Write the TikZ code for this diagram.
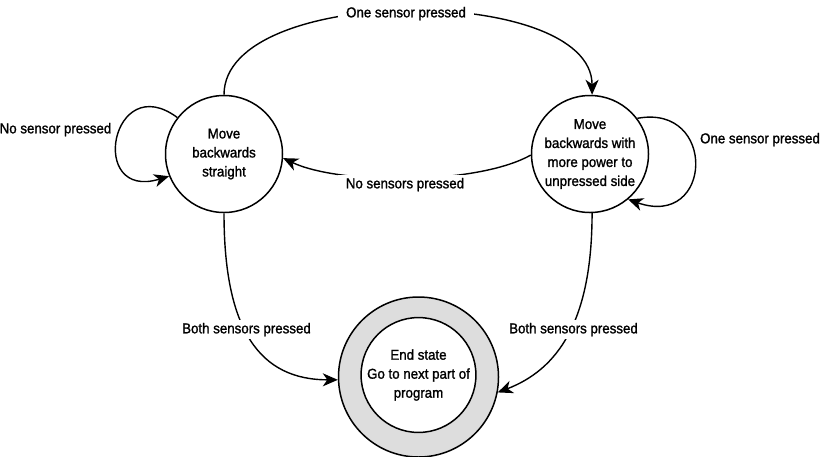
\documentclass[tikz,border=0pt]{standalone}
\usepackage{fontspec}
\setmainfont{Liberation Sans}[FakeBold=1.4,FakeStretch=0.93]
\usetikzlibrary{arrows.meta}
\definecolor{ringgray}{RGB}{221,221,221}
\begin{document}
\begin{tikzpicture}[x=1pt,y=-1pt,
  txt/.style={font=\fontsize{14.3}{19}\selectfont, align=center},
  statenode/.style={txt, circle, draw=black, line width=1.5pt, inner sep=0pt, minimum size=117pt},
  lab/.style={txt, inner sep=0pt, anchor=base},
  cutlab/.style={txt, fill=white, inner xsep=8pt, inner ysep=3pt, anchor=base},
  arr/.style={line width=1.4pt, -{Stealth[length=15pt,width=13pt,inset=4.5pt]}}
]
\useasboundingbox (0,0) rectangle (821,456);
\fill[white] (0,0) rectangle (821,456);

\node[statenode] (L) at (224,154) {Move\\backwards\\straight};
\node[statenode] (R) at (590,154) {Move\\backwards with\\more power to\\unpressed side};
\node[circle, draw=black, line width=1.5pt, fill=ringgray, minimum size=160pt, inner sep=0pt] (E) at (418.5,377) {};
\node[circle, draw=black, line width=1.5pt, fill=white, minimum size=112pt, inner sep=0pt, txt] (Ein) at (418.5,375) {End state\\Go to next part of\\program};

% transitions
\draw[arr] (L.north) .. controls +(0,-111) and +(0,-111) .. (R.88);
\draw[arr] (R.181) .. controls +(-53,30) and +(57,27) .. (L.-4);
\draw[arr] (L.142.7) .. controls +(-66,-49) and +(-82,25) .. (L.-158);
\draw[arr] (R.37.6) .. controls +(80,-15) and +(85,30) .. (R.-50);
\draw[arr] (L.south) .. controls +(0,117) and +(-78,0) .. (E.182);
\draw[arr] (R.-88) .. controls +(0,108) and +(60,-23) .. (E.-11);

% labels
\node[cutlab] (l1) at (406,17.3) {One sensor pressed};
\node[lab] (l2) at (55.5,133.3) {No sensor pressed};
\node[cutlab] (l3) at (405,188.3) {No sensors pressed};
\node[lab] (l4) at (760,143.3) {One sensor pressed};
\node[cutlab] (l5) at (246.5,333.3) {Both sensors pressed};
\node[cutlab] (l6) at (573.5,333.3) {Both sensors pressed};
\end{tikzpicture}
\end{document}
